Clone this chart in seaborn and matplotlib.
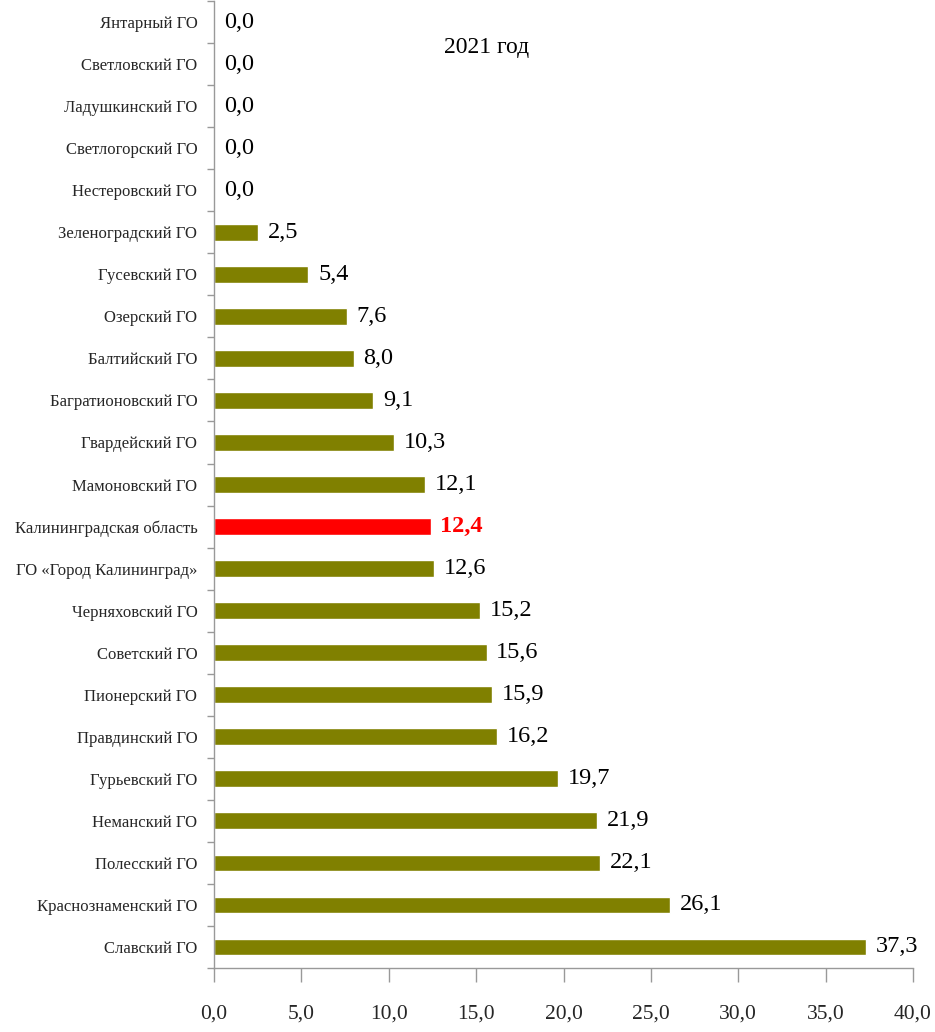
import matplotlib
matplotlib.use("Agg")
import matplotlib.pyplot as plt
import seaborn as sns
import pandas as pd
import numpy as np
from matplotlib.ticker import FixedLocator, FuncFormatter

categories = [
    "Янтарный ГО", "Светловский ГО", "Ладушкинский ГО", "Светлогорский ГО",
    "Нестеровский ГО", "Зеленоградский ГО", "Гусевский ГО", "Озерский ГО",
    "Балтийский ГО", "Багратионовский ГО", "Гвардейский ГО", "Мамоновский ГО",
    "Калининградская область", "ГО «Город Калининград»", "Черняховский ГО",
    "Советский ГО", "Пионерский ГО", "Правдинский ГО", "Гурьевский ГО",
    "Неманский ГО", "Полесский ГО", "Краснознаменский ГО", "Славский ГО",
]
values = [0.0, 0.0, 0.0, 0.0, 0.0, 2.5, 5.4, 7.6, 8.0, 9.1, 10.3, 12.1,
          12.4, 12.6, 15.2, 15.6, 15.9, 16.2, 19.7, 21.9, 22.1, 26.1, 37.3]
highlight = "Калининградская область"
x_ticks = [0, 5, 10, 15, 20, 25, 30, 35, 40]
title = "2021 год"

sns.set_style("white")
plt.rcParams["font.family"] = ["Liberation Serif", "DejaVu Serif"]

df = pd.DataFrame({"cat": categories, "val": values})
df["grp"] = np.where(df["cat"] == highlight, "hl", "base")
palette = {"base": "#808000", "hl": "#FF0000"}

fig = plt.figure(figsize=(9.35, 10.32), dpi=100)
ax = fig.add_axes([0.2289, 0.062, 0.7476, 0.937])

sns.barplot(data=df, x="val", y="cat", hue="grp", palette=palette,
            order=categories, orient="h", width=0.4, dodge=False,
            legend=False, ax=ax, saturation=1)

ax.set_xlim(0, 40)
ax.set_ylim(len(categories) - 0.5, -0.5)
ax.set_xlabel("")
ax.set_ylabel("")

ax.xaxis.set_major_locator(FixedLocator(x_ticks))
ax.xaxis.set_major_formatter(FuncFormatter(lambda v, p: f"{v:.1f}".replace(".", ",")))
ax.tick_params(axis="x", length=10, width=1, color="#999999", pad=16,
               labelsize=15.5, direction="out", bottom=True)
ax.tick_params(axis="y", length=0, pad=12, labelsize=12, left=True)
ax.set_yticks(range(len(categories)))
ax.set_yticklabels(categories)
ax.yaxis.set_minor_locator(FixedLocator(np.arange(-0.5, len(categories), 1.0)))
ax.tick_params(axis="y", which="minor", length=5, width=1, color="#999999", left=True)

for s in ["top", "right"]:
    ax.spines[s].set_visible(False)
for s in ["left", "bottom"]:
    ax.spines[s].set_color("#999999")
    ax.spines[s].set_linewidth(1)

for i, (c, v) in enumerate(zip(categories, values)):
    lab = f"{v:.1f}".replace(".", ",")
    if c == highlight:
        ax.annotate(lab, (v, i), xytext=(7, 0), textcoords="offset points",
                    va="center", ha="left", fontsize=17.5, color="#FF0000",
                    fontweight="bold")
    else:
        ax.annotate(lab, (v, i), xytext=(7, 0), textcoords="offset points",
                    va="center", ha="left", fontsize=17.5, color="black")

ax.text(15.6, 0.6, title, fontsize=17, ha="center", va="center", color="black")

fig.savefig("out.png", dpi=100)
